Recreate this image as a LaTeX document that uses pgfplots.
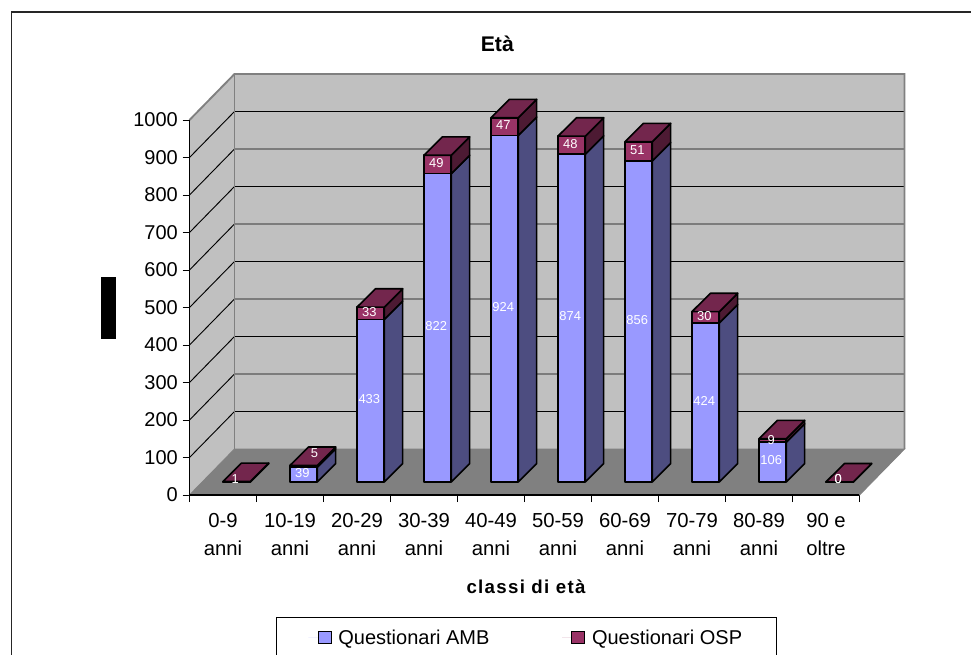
\documentclass[border=0pt]{standalone}
\usepackage{fontspec}
\setmainfont{Liberation Sans}
\usepackage{pgfplots}
\pgfplotsset{compat=1.18}

\definecolor{ambfront}{RGB}{153,153,255}
\definecolor{ambside}{RGB}{77,77,128}
\definecolor{ospfront}{RGB}{153,51,102}
\definecolor{osptop}{RGB}{115,38,77}
\definecolor{ospside}{RGB}{77,26,51}
\definecolor{wall}{RGB}{192,192,192}
\definecolor{floorgray}{RGB}{128,128,128}

% Projection constants, in axis units
\def\bardx{0.275}    % depth of one column
\def\bardy{49}
\def\barw{0.407}     % front width of one column
\def\barx{0.5}       % column offset inside its category
\def\bary{35}        % column base above the front floor edge

% One stacked 3D column: category index, lower value, upper value
\newcommand{\colbar}[3]{%
  \pgfmathsetmacro{\xa}{#1+\barx}%
  \pgfmathsetmacro{\xb}{\xa+\barw}%
  \pgfmathsetmacro{\xc}{\xb+\bardx}%
  \pgfmathsetmacro{\xd}{\xa+\bardx}%
  \pgfmathsetmacro{\ya}{\bary}%
  \pgfmathsetmacro{\yb}{\bary+#2}%
  \pgfmathsetmacro{\yc}{\bary+#2+#3}%
  \pgfmathsetmacro{\yab}{\ya+\bardy}%
  \pgfmathsetmacro{\ybb}{\yb+\bardy}%
  \pgfmathsetmacro{\ycb}{\yc+\bardy}%
  \addplot[forget plot,barline,fill=ambside] coordinates {(\xb,\ya) (\xc,\yab) (\xc,\ybb) (\xb,\yb)} --cycle;
  \addplot[forget plot,barline,fill=ambfront] coordinates {(\xa,\ya) (\xb,\ya) (\xb,\yb) (\xa,\yb)} --cycle;
  \addplot[forget plot,barline,fill=ospside] coordinates {(\xb,\yb) (\xc,\ybb) (\xc,\ycb) (\xb,\yc)} --cycle;
  \addplot[forget plot,barline,fill=ospfront] coordinates {(\xa,\yb) (\xb,\yb) (\xb,\yc) (\xa,\yc)} --cycle;
  \addplot[forget plot,barline,fill=osptop] coordinates {(\xa,\yc) (\xb,\yc) (\xc,\ycb) (\xd,\ycb)} --cycle;
}
% Value label: category index, height of its centre, shift in x, text
\newcommand{\vallabel}[4]{%
  \pgfmathsetmacro{\lx}{#1+\barx+\barw/2-0.02+#3}%
  \pgfmathsetmacro{\ly}{\bary+4+#2}%
  \addplot[forget plot,draw=none,nodes near coords,point meta=explicit symbolic,
    nodes near coords style={anchor=center,text=white,font=\fontsize{9.7}{11}\selectfont,inner sep=0pt}]
    coordinates {(\lx,\ly)[#4]};
}
% One gridline across the left and back walls
\newcommand{\gridat}[2]{%
  \addplot[forget plot,black,line width=0.7pt] coordinates {(0,#1) (0.672,#2) (10.672,#2)};
}

\begin{document}
\begin{tikzpicture}
\path[use as bounding box,fill=white] (0pt,0pt) rectangle (728.25pt,490.5pt);
\begin{scope}[x=0.75pt,y=0.75pt]
\draw[black!85,line width=1.1pt] (11.5,-5) -- (11.5,642) -- (976,642);
\fill[black] (101,315) rectangle (116,377);
\node[font=\bfseries\fontsize{15.9}{19}\selectfont] at (497.3,610) {Età};
\node[font=\bfseries\fontsize{14}{17}\selectfont\addfontfeatures{LetterSpace=7}] at (526,67) {classi di età};
\end{scope}
\begin{axis}[
  at={(142.125pt,119.25pt)},anchor=south west,
  scale only axis,width=536.25pt,height=315.75pt,
  xmin=0,xmax=10.672,ymin=0,ymax=1122.67,
  clip=false,
  axis line style={draw=none},
  tick align=outside,
  xtick pos=left,ytick pos=left,
  ytick={0,100,...,1000},
  xtick={0.5,1.5,...,9.5},
  minor xtick={0,1,...,10},
  xticklabels={{0-9\\anni},{10-19\\anni},{20-29\\anni},{30-39\\anni},{40-49\\anni},{50-59\\anni},{60-69\\anni},{70-79\\anni},{80-89\\anni},{90 e\\oltre}},
  x tick label style={align=center,font=\fontsize{15.2}{21}\selectfont,yshift=-5pt},
  y tick label style={font=\fontsize{15}{18}\selectfont},
  /pgf/number format/assume math mode=true,
  /pgf/number format/1000 sep={},
  major tick length=5.25pt,
  minor tick length=5.25pt,
  x tick style={draw=none},
  minor x tick style={draw=black,line width=0.7pt},
  y tick style={draw=black,line width=0.7pt},
  barline/.style={draw=black,line width=1.2pt,line join=round},
  legend columns=2,
  legend cell align=left,
  legend style={at={(0.121,-0.29)},anchor=north west,draw=black,line width=0.7pt,
    inner xsep=24pt,inner ysep=7pt,font=\fontsize{15}{18}\selectfont,
    /tikz/every even column/.append style={column sep=52.5pt}},
  legend image code/.code={\path[draw=none] (0pt,0pt) -- (7.25pt,0pt);\draw[#1,line width=0.8pt] (7.25pt,-4.5pt) rectangle (17pt,4.5pt);},
]
% plot box: walls and floor
\addplot[forget plot,draw=none,fill=wall] coordinates {(0,0) (0,1000) (0.672,1122.67) (0.672,122.67)} --cycle;
\addplot[forget plot,draw=none,fill=wall] coordinates {(0.672,122.67) (0.672,1122.67) (10.672,1122.67) (10.672,122.67)} --cycle;
% gridlines along the left and back walls
\gridat{100}{222.67}
\gridat{200}{322.67}
\gridat{300}{422.67}
\gridat{400}{522.67}
\gridat{500}{622.67}
\gridat{600}{722.67}
\gridat{700}{822.67}
\gridat{800}{922.67}
\gridat{900}{1022.67}
\addplot[forget plot,draw=floorgray,line width=1.4pt] coordinates {(0,1000) (0.672,1122.67) (10.672,1122.67) (10.672,122.67)};
\addplot[forget plot,draw=floorgray,line width=1.4pt] coordinates {(0.672,122.67) (0.672,1122.67)};
\addplot[forget plot,draw=floorgray,fill=floorgray,line width=0.7pt] coordinates {(0,0) (10,0) (10.672,122.67) (0.672,122.67)} --cycle;
\addplot[forget plot,black,line width=0.9pt] coordinates {(0,1000) (0,0) (10,0)};
% stacked columns: Questionari AMB, Questionari OSP
\colbar{0}{0}{1}
\colbar{1}{39}{5}
\colbar{2}{433}{33}
\colbar{3}{822}{49}
\colbar{4}{924}{47}
\colbar{5}{874}{48}
\colbar{6}{856}{51}
\colbar{7}{424}{30}
\colbar{8}{106}{9}
\colbar{9}{0}{0}
% value labels
\vallabel{1}{19.5}{0}{39}
\vallabel{2}{216.5}{0}{433}
\vallabel{3}{411}{0}{822}
\vallabel{4}{462}{0}{924}
\vallabel{5}{437}{0}{874}
\vallabel{6}{428}{0}{856}
\vallabel{7}{212}{0}{424}
\vallabel{8}{53}{0}{106}
\vallabel{9}{3}{0}{0}
\vallabel{0}{3}{0}{1}
\vallabel{1}{73}{0.18}{5}
\vallabel{2}{449.5}{0}{33}
\vallabel{3}{846.5}{0}{49}
\vallabel{4}{947.5}{0}{47}
\vallabel{5}{898}{0}{48}
\vallabel{6}{881.5}{0}{51}
\vallabel{7}{439}{0}{30}
\vallabel{8}{107}{0}{9}
\vallabel{9}{3}{0}{0}
% legend keys
\addlegendimage{fill=ambfront,draw=black}
\addlegendentry{\hspace*{3pt}Questionari AMB}
\addlegendimage{fill=ospfront,draw=black}
\addlegendentry{\hspace*{3pt}Questionari OSP}
\end{axis}
\end{tikzpicture}
\end{document}
